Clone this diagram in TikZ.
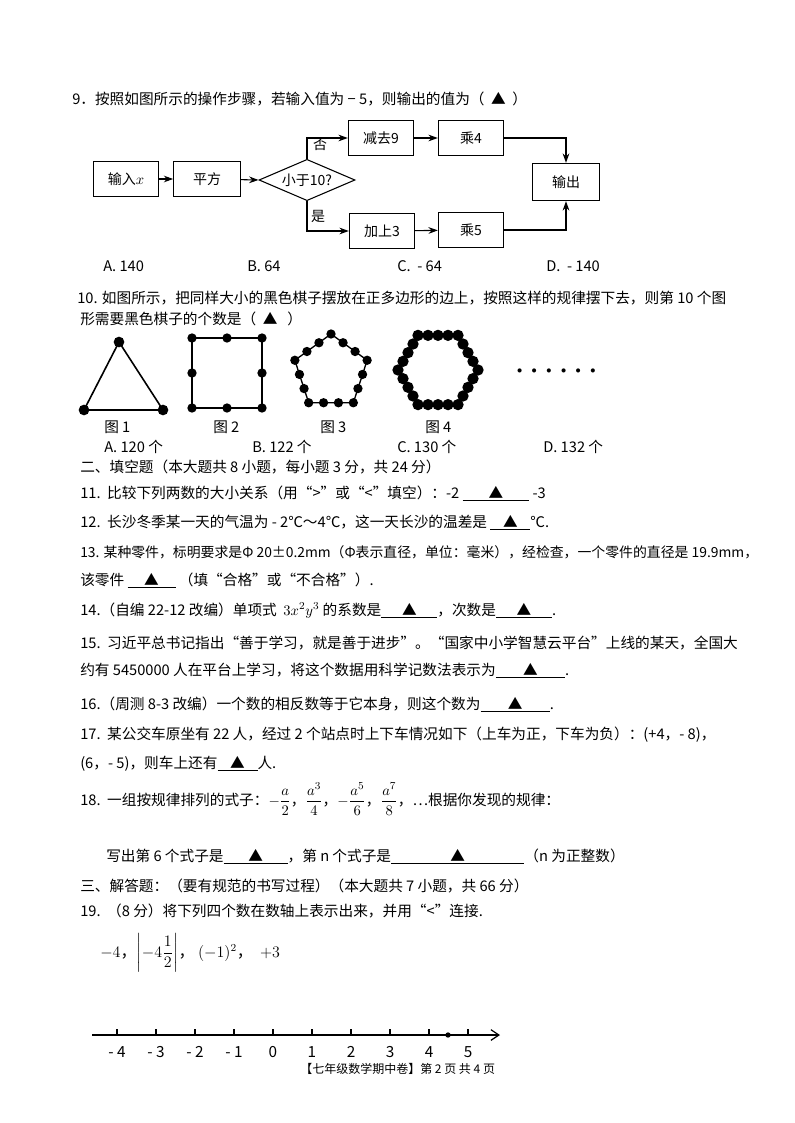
\documentclass[tikz,border=0pt]{standalone}
\usepackage{amsmath}
\usepackage{fontspec}
\setmainfont{Noto Sans CJK SC}
\usetikzlibrary{arrows.meta,calc,shapes.geometric}
\newcommand{\blk}[1]{\underline{\makebox[#1]{▲}}}
\begin{document}
\begin{tikzpicture}[x=0.75pt,y=-0.75pt,
  txt/.style={anchor=base west,inner sep=0pt,font=\fontsize{11}{13}\selectfont},
  fbox/.style={draw,line width=0.8pt,minimum width=#1,minimum height=26pt,inner sep=0pt,font=\fontsize{10.5}{12}\selectfont},
  fbox/.default=49pt,
  arr/.style={line width=0.8pt,-{Stealth[length=7pt,width=5pt]}},
  dot/.style={fill=black,circle,inner sep=0pt,minimum size=#1},
  dot/.default=7pt]
\useasboundingbox (0,0) rectangle (794,1123);
\fill[white] (0,0) rectangle (794,1123);
% question 9
\node[txt] (q9) at (72,105) {9．按照如图所示的操作步骤，若输入值为 − 5，则输出的值为（ \ ▲ \ ）};
\node[fbox] (in) at (126,179) {输入$x$};
\node[fbox=50pt] (sq) at (207,179) {平方};
\node[draw,diamond,aspect=2.3,line width=0.8pt,minimum width=72pt,minimum height=31pt,inner sep=0pt,font=\fontsize{10.5}{12}\selectfont] (dm) at (307,180) {小于10?};
\node[fbox] (m9) at (381,138) {减去9};
\node[fbox] (x4) at (471,138) {乘4};
\node[fbox] (p3) at (382,231) {加上3};
\node[fbox] (x5) at (471,230) {乘5};
\node[fbox=50pt,minimum height=28pt] (out) at (566,182) {输出};
\draw[arr] (in) -- (sq);
\draw[arr] (sq) -- (dm.west);
\draw[arr] (dm.north) |- (m9.west);
\draw[arr] (dm.south) |- (p3.west);
\node[font=\fontsize{10.5}{12}\selectfont] (no) at (320,145) {否};
\node[font=\fontsize{10.5}{12}\selectfont] (yes) at (318,216) {是};
\draw[arr] (m9) -- (x4);
\draw[arr] (p3) -- (x5);
\draw[arr] (x4.east) -| (out.north);
\draw[arr] (x5.east) -| (out.south);
\node[txt] (a9) at (103,271) {A.\ 140};
\node[txt] (b9) at (247,271) {B.\ 64};
\node[txt] (c9) at (397,271) {C.\ \ - 64};
\node[txt] (d9) at (546,271) {D.\ \ - 140};
% question 10
\node[txt] (q10) at (77,303) {10. 如图所示，把同样大小的黑色棋子摆放在正多边形的边上，按照这样的规律摆下去，则第 10 个图};
\node[txt] (q10b) at (80,324) {形需要黑色棋子的个数是（ \ ▲ \ \ ）};
% triangle
\coordinate (t1) at (84,410);\coordinate (t2) at (163,410);\coordinate (t3) at (119,342);
\draw[line width=1.2pt] (t1)--(t2)--(t3)--cycle;
\foreach \p in {t1,t2,t3} \node[dot=8pt] at (\p) {};
% square
\draw[line width=1.2pt] (192,338) rectangle (262,408);
\foreach \p in {(192,338),(227,338),(262,338),(262,373),(262,408),(227,408),(192,408),(192,373)} \node[dot=7pt] at \p {};
% pentagon
\begin{scope}[shift={(331,372)}]
\draw[line width=1pt] (-90:38)--(-18:38)--(54:38)--(126:38)--(198:38)--cycle;
\foreach \k in {0,...,4}{
  \foreach \i in {0,1,2}{
    \node[dot=7pt] at ($(-90+72*\k:38)!\i/3!(-18+72*\k:38)$) {};}}
\end{scope}
% hexagon
\begin{scope}[shift={(438,370)}]
\draw[line width=1pt] (0:40)--(60:40)--(120:40)--(180:40)--(240:40)--(300:40)--cycle;
\foreach \k in {0,...,5}{
  \foreach \i in {0,1,2,3}{
    \node[dot=8.5pt] at ($(60*\k:40)!\i/4!(60+60*\k:40)$) {};}}
\end{scope}
\node[txt] (dots) at (512,376) {\textbf{······}};
\node[txt] (f1) at (104,432) {图 1};
\node[txt] (f2) at (213,432) {图 2};
\node[txt] (f3) at (320,432) {图 3};
\node[txt] (f4) at (425,432) {图 4};
\node[txt] (a10) at (104,452) {A. 120 个};
\node[txt] (b10) at (252,452) {B. 122 个};
\node[txt] (c10) at (397,452) {C. 130 个};
\node[txt] (d10) at (543,452) {D. 132 个};
% section 2
\node[txt] (s2) at (80,472) {二、填空题（本大题共 8 小题，每小题 3 分，共 24 分）};
\node[txt] (q11) at (80,498) {11.\ \ 比较下列两数的大小关系（用“>”或“<”填空）：-2 \blk{50pt} -3};
\node[txt] (q12) at (80,527) {12.\ \ 长沙冬季某一天的气温为 - 2℃～4℃，这一天长沙的温差是 \blk{30pt}℃.};
\node[txt,font=\fontsize{10.4}{12}\selectfont] (q13) at (80,557) {13. 某种零件，标明要求是Φ 20±0.2\textit{mm}（Φ表示直径，单位：毫米），经检查，一个零件的直径是 19.9\textit{mm}，};
\node[txt] (q13b) at (80,585) {该零件 \blk{36pt} （填“合格”或“不合格”）.};
\node[txt] (q14) at (80,615) {14.（自编 22-12 改编）单项式 \ $\large 3x^2y^3$ 的系数是\blk{42pt}，次数是\blk{42pt}.};
\node[txt] (q15) at (80,648) {15.\ \ 习近平总书记指出“善于学习，就是善于进步”。“国家中小学智慧云平台”上线的某天，全国大};
\node[txt] (q15b) at (80,675) {约有 5450000 人在平台上学习，将这个数据用科学记数法表示为\blk{52pt}.};
\node[txt] (q16) at (80,709) {16.（周测 8-3 改编）一个数的相反数等于它本身，则这个数为\blk{52pt}.};
\node[txt] (q17) at (80,739) {17.\ \ 某公交车原坐有 22 人，经过 2 个站点时上下车情况如下（上车为正，下车为负）：(+4，- 8)，};
\node[txt] (q17b) at (80,768) {(6，- 5)，则车上还有\blk{30pt}人.};
\node[txt] (q18) at (80,805) {18.\ \ 一组按规律排列的式子：$-\dfrac{a}{2}$，$\dfrac{a^3}{4}$，$-\dfrac{a^5}{6}$，$\dfrac{a^7}{8}$，…根据你发现的规律：};
\node[txt] (q18b) at (106,861) {写出第 6 个式子是\blk{48pt}，第 n 个式子是\blk{100pt}（n 为正整数）};
% section 3
\node[txt] (s3) at (80,891) {三、解答题：（要有规范的书写过程）（本大题共 7 小题，共 66 分）};
\node[txt] (q19) at (80,916) {19.\ \ （8 分）将下列四个数在数轴上表示出来，并用“<”连接.};
\node[txt,font=\fontsize{12}{14}\selectfont] (nums) at (100,957) {$-4$，$\left|-4\dfrac{1}{2}\right|$，\ $(-1)^2$，\ \ $+3$};
% number line
\coordinate (ls) at (92,1035);\coordinate (le) at (500,1035);
\draw[line width=0.9pt,-{Straight Barb[length=6pt,width=8pt]}] (ls) -- (le);
\foreach \v in {-4,...,5}{
  \draw[line width=0.8pt] (273+39*\v,1035) -- (273+39*\v,1029);
  \node[font=\fontsize{11.5}{13}\selectfont] at (273+39*\v,1052) {\ifnum\v<0 - \the\numexpr-\v\relax\else\v\fi};}
\node[dot=4pt] (pt) at (448,1035) {};
\node[txt] (foot) at (300,1073) {\fontsize{9}{11}\selectfont【七年级数学期中卷】第 2 页 共 4 页};
\end{tikzpicture}
\end{document}
